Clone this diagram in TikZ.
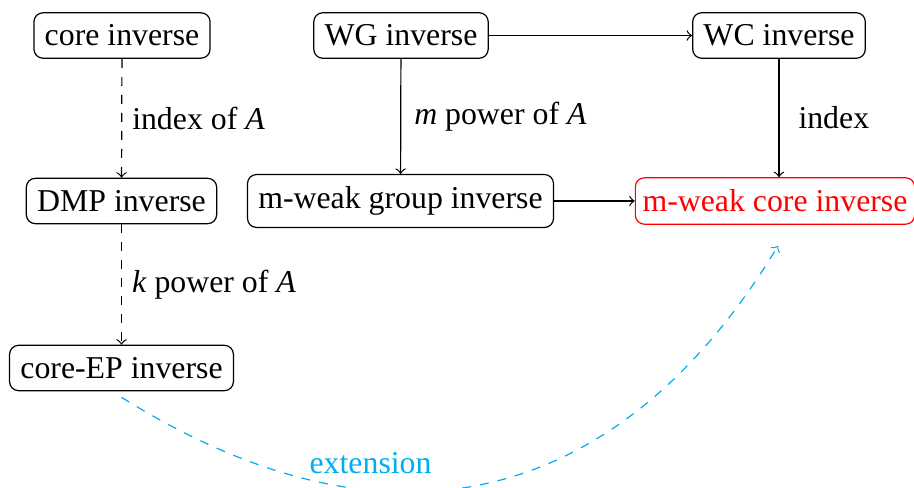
\documentclass[tikz,border=0pt]{standalone}
\usepackage{fontspec}
\setmainfont{Liberation Serif}
\definecolor{ext}{RGB}{0,174,239}
\begin{document}
\begin{tikzpicture}[x=0.3333pt,y=0.3333pt,
  box/.style={draw, rounded corners=3pt, inner xsep=3.6pt, inner ysep=4pt, font=\fontsize{10.6}{12.7}\selectfont},
  lab/.style={font=\fontsize{10.6}{12.7}\selectfont, inner sep=3.3pt},
  arr/.style={->, line width=0.4pt}]
\clip (0,0) rectangle (914,-488);
\useasboundingbox (0,0) rectangle (914,-488);
\node[box] (core) at (122,-35.5) {core inverse};
\node[box] (wg) at (401,-35.5) {WG inverse};
\node[box] (wc) at (779,-35.5) {WC inverse};
\node[box] (dmp) at (121.5,-201) {DMP inverse};
\node[box] (mwg) at (400.5,-201) {m-weak group inverse};
\node[box, draw=red, text=red, inner xsep=2.4pt] (mwc) at (775,-201) {m-weak core inverse};
\node[box] (cep) at (121.5,-368) {core-EP inverse};
\draw[arr, dashed] (core) -- node[lab, right] {index of \textit{A}} (dmp);
\draw[arr, dashed] (dmp) -- node[lab, right] {\textit{k} power of \textit{A}} (cep);
\draw[arr] (wg) -- node[lab, right, xshift=1pt] {\textit{m} power of \textit{A}} (mwg);
\draw[arr] (wg) -- (wc);
\draw[arr] (wc) -- node[lab, right, xshift=3pt] {index} (wc |- mwc.north);
\draw[arr] (mwg) -- (mwc);
\draw[arr, dashed, ext] ([yshift=-2pt]cep.south) to[out=-32, in=-121, out looseness=1.35, in looseness=1.0]
  node[lab, pos=0.3, above, yshift=2pt, text=ext] {extension} ([xshift=1pt,yshift=-7pt]mwc.south);
\end{tikzpicture}
\end{document}
